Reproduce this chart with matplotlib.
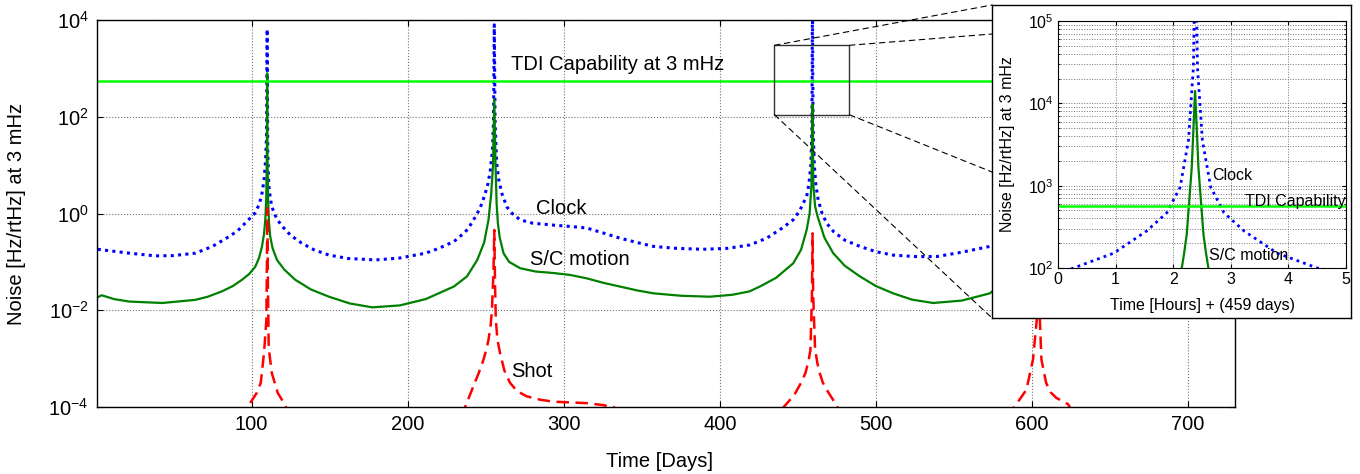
"""
Noise at 3 mHz over the mission: clock, S/C motion and shot noise vs TDI capability,
with a zoomed inset around day 459.
"""
import matplotlib
matplotlib.use("Agg")
import matplotlib.pyplot as plt
import numpy as np
from matplotlib.patches import Rectangle, ConnectionPatch
from matplotlib.ticker import NullLocator, NullFormatter, LogLocator

plt.rcParams["font.family"] = ["Liberation Sans", "DejaVu Sans"]
plt.rcParams["mathtext.fontset"] = "custom"
plt.rcParams["mathtext.rm"] = "Liberation Sans"
plt.rcParams["mathtext.it"] = "Liberation Sans:italic"
plt.rcParams["mathtext.bf"] = "Liberation Sans:bold"

# ---- data (values as log10 of noise) ----
tdi_level = 560.0

clock_days = [1.5, 21.6, 38.4, 50, 64, 75, 85.6, 91, 98, 102, 104.8, 106.5, 108, 109, 109.6,
              110, 110.4, 111, 112, 113, 115, 117, 119.8, 125, 132, 140, 149.6, 162, 179.5,
              195, 211.5, 220, 229.6, 237, 241, 244.6, 247.5, 250, 251.5, 253, 254.3, 255,
              255.5, 256, 257, 258.4, 260.5, 263.5, 267, 272, 280, 293.3, 305, 314.7, 325,
              336, 347, 357.4, 372, 389, 405, 419.2, 430, 440, 447, 451, 454, 455.6, 457,
              458.3, 459, 459.3, 459.7, 460.5, 461.5, 463, 465.5, 468.4, 473, 480, 489.7,
              500, 511, 525, 538.8, 555, 573, 590, 598, 602, 604, 606, 610, 620, 650, 690, 730]
clock_log10 = [-0.74, -0.82, -0.876, -0.87, -0.82, -0.68, -0.477, -0.36, -0.13, 0.0, 0.18,
               0.38, 0.69, 1.1, 1.6, 3.81, 1.3, 0.6, 0.32, 0.14, -0.03, -0.15, -0.27, -0.45,
               -0.61, -0.75, -0.86, -0.93, -0.96, -0.92, -0.82, -0.72, -0.58, -0.38, -0.2,
               0.0, 0.2, 0.45, 0.62, 0.9, 1.3, 1.9, 3.9, 1.9, 1.05, 0.69, 0.4, 0.14, 0.0,
               -0.13, -0.2, -0.24, -0.27, -0.30, -0.4, -0.51, -0.6, -0.68, -0.72, -0.74,
               -0.72, -0.65, -0.51, -0.3, -0.13, 0.05, 0.25, 0.35, 0.6, 1.0, 1.8, 4.5, 1.8,
               1.0, 0.6, 0.28, 0.0, -0.2, -0.38, -0.55, -0.68, -0.79, -0.86, -0.89, -0.89,
               -0.8, -0.68, -0.3, 0.3, 1.2, 3.9, 1.2, 0.3, -0.3, -0.75, -0.85, -0.8]

sc_days = [1.5, 4, 12, 21.6, 42.7, 64, 72, 81, 88, 93.9, 98.5, 102.4, 104.8, 106.7, 108,
           108.8, 109.4, 109.8, 110, 110.2, 110.6, 111.2, 112, 113.5, 116.3, 121, 128, 138,
           149.6, 163, 177.4, 195, 211.5, 229.6, 238, 244.6, 249, 251.8, 253.5, 254.7, 255.5,
           256.3, 257, 257.8, 259, 261.4, 265, 272, 282, 293.3, 304, 314.7, 325, 336, 347,
           357.4, 375, 393.6, 408, 419, 425.6, 436, 447, 452, 455.6, 457.5, 458.7, 459.3,
           459.9, 461, 462.5, 464, 467, 472.6, 480, 489.7, 500, 511, 523, 536.6, 555, 573,
           590, 600, 603, 604, 605, 608, 618, 650, 690, 730]
sc_log10 = [-1.73, -1.69, -1.77, -1.82, -1.85, -1.785, -1.72, -1.61, -1.5, -1.37, -1.25,
            -1.10, -0.92, -0.68, -0.42, -0.13, 0.3, 1.2, 2.9, 1.2, 0.3, -0.2, -0.48, -0.72,
            -0.96, -1.16, -1.37, -1.57, -1.72, -1.86, -1.94, -1.9, -1.77, -1.51, -1.3, -0.96,
            -0.6, -0.13, 0.4, 1.0, 2.36, 1.0, 0.2, -0.2, -0.5, -0.82, -1.0, -1.13, -1.2,
            -1.23, -1.27, -1.34, -1.43, -1.51, -1.59, -1.65, -1.70, -1.72, -1.68, -1.61,
            -1.51, -1.33, -1.03, -0.75, -0.34, 0.0, 0.6, 2.26, 0.6, 0.15, -0.05, -0.2, -0.5,
            -0.82, -1.08, -1.30, -1.5, -1.65, -1.78, -1.85, -1.8, -1.65, -1.2, -0.5, 0.5,
            2.4, 0.5, -0.5, -1.2, -1.7, -1.8, -1.7]

shot_days = [85, 97.3, 100.5, 103.5, 105.9, 108, 109.5, 109.9, 110.1, 110.5, 111, 113,
             116.8, 121.5, 130, 230, 236.8, 242, 245.5, 248.6, 250.5, 251.8, 253.2, 254, 255,
             255.5, 256, 256.5, 257.5, 259.2, 262, 265.6, 270, 276.3, 285, 293.3, 314.7, 325,
             331.8, 345, 435, 440.9, 445, 448.4, 452, 454.8, 456.8, 458, 459, 459.4, 459.8,
             461, 462.5, 464, 466, 468.4, 471.5, 474.7, 485, 578, 588.5, 593, 596.4, 600.6,
             603, 604, 605, 606, 609, 612, 615.5, 623, 635]
shot_log10 = [-5.0, -4.0, -3.85, -3.7, -3.5, -2.88, -2.2, -0.82, 0.11, -1.5, -2.78, -3.3,
              -3.71, -3.96, -4.6, -4.6, -4.0, -3.58, -3.3, -3.02, -2.8, -2.61, -2.3, -1.99,
              -1.2, -0.34, -1.5, -2.2, -2.6, -2.89, -3.25, -3.5, -3.67, -3.78, -3.85, -3.89,
              -3.92, -3.96, -4.0, -4.3, -4.5, -4.0, -3.85, -3.71, -3.5, -3.3, -3.05, -2.82,
              -1.72, -0.41, -1.7, -2.8, -3.1, -3.3, -3.5, -3.64, -3.8, -3.96, -4.6, -4.8,
              -4.0, -3.8, -3.64, -3.02, -2.2, -0.5, -2.2, -3.02, -3.5, -3.7, -3.81, -3.94,
              -4.6]

# inset, hours after day 459
clock_hours = [0, 0.27, 0.966, 1.54, 1.889, 2.12, 2.265, 2.351, 2.386, 2.421, 2.507, 2.652,
               2.883, 3.23, 3.806, 4.50, 5.0]
clock_hours_log10 = [1.93, 2.0, 2.18, 2.45, 2.67, 2.98, 3.55, 4.44, 6.0, 4.44, 3.55, 2.98,
                     2.67, 2.45, 2.18, 2.0, 1.93]
sc_hours = [0, 2.10, 2.149, 2.19, 2.235, 2.322, 2.38, 2.438, 2.525, 2.57, 2.611, 2.66, 5.0]
sc_hours_log10 = [0.5, 1.8, 2.0, 2.18, 2.41, 3.22, 4.15, 3.22, 2.41, 2.18, 2.0, 1.8, 0.5]

# zoom box on main plot (days, noise)
box_days = (435, 483)
box_noise = (110, 3000)

W, H = 1360, 474
fig = plt.figure(figsize=(W / 100, H / 100), dpi=100)

ax = fig.add_axes([97 / W, 1 - 407 / H, 1138 / W, 387 / H])
ax.set_yscale("log")

ax.plot(clock_days, 10 ** np.array(clock_log10), color="blue", lw=2.2, ls=(0, (1, 1.4)))
ax.plot(sc_days, 10 ** np.array(sc_log10), color=(0, 0.5, 0), lw=1.6)
ax.plot(shot_days, 10 ** np.array(shot_log10), color="red", lw=1.8, ls=(0, (5, 2.6)))
ax.axhline(tdi_level, color=(0, 1, 0), lw=1.8)

ax.set_xlim(1, 730)
ax.set_ylim(1e-4, 1e4)
ax.set_xticks([100, 200, 300, 400, 500, 600, 700])
ax.set_yticks([1e-4, 1e-2, 1, 1e2, 1e4])
ax.yaxis.set_minor_locator(NullLocator())
ax.grid(True, ls=":", color="0.45", lw=0.8)
ax.tick_params(direction="in", top=True, right=True, length=4, width=0.8,
               labelsize=14.5, pad=6)
for s in ax.spines.values():
    s.set_linewidth(1.0)

ax.set_xlabel("Time [Days]", fontsize=14.5)
ax.xaxis.set_label_coords(0.494, -0.116)
ax.set_ylabel("Noise [Hz/rtHz] at 3 mHz", fontsize=14.5)
ax.yaxis.set_label_coords(-0.062, 0.5)

ax.text(266, 10 ** 3.07, "TDI Capability at 3 mHz", fontsize=14.5, va="center")
ax.text(282, 10 ** 0.095, "Clock", fontsize=14.5, va="center")
ax.text(278.5, 10 ** -0.96, "S/C motion", fontsize=14.5, va="center")
ax.text(266, 10 ** -3.27, "Shot", fontsize=14.5, va="center")

ax.add_patch(Rectangle((box_days[0], box_noise[0]), box_days[1] - box_days[0],
                       box_noise[1] - box_noise[0], fill=False, ec="0.2", lw=1.0, zorder=5))

# panel behind the inset
panel = [992 / W, 1 - 318 / H, 359 / W, 313 / H]
axp = fig.add_axes(panel, zorder=3)
axp.set_xticks([])
axp.set_yticks([])
axp.set_facecolor("white")
for s in axp.spines.values():
    s.set_linewidth(1.0)

# dashed connectors from the zoom box to the panel
px0, py1 = panel[0], panel[1] + panel[3]
ends = [((box_days[0], box_noise[1]), (px0, py1)),
        ((box_days[1], box_noise[1]), (px0, 1 - 34 / H)),
        ((box_days[1], box_noise[0]), (px0, 1 - 172 / H)),
        ((box_days[0], box_noise[0]), (px0, panel[1]))]
for a, b in ends:
    con = ConnectionPatch(xyA=a, coordsA=ax.transData, xyB=b, coordsB="figure fraction",
                          ls=(0, (5, 4)), lw=0.8, color="black")
    fig.add_artist(con)

# inset
axi = fig.add_axes([1058 / W, 1 - 268 / H, 288 / W, 247 / H], zorder=4)
axi.set_yscale("log")
axi.plot(clock_hours, 10 ** np.array(clock_hours_log10), color="blue", lw=2.0,
         ls=(0, (1, 1.5)))
axi.plot(sc_hours, 10 ** np.array(sc_hours_log10), color=(0, 0.5, 0), lw=1.6)
axi.axhline(tdi_level, color=(0, 1, 0), lw=1.8)
axi.set_xlim(0, 5)
axi.set_ylim(1e2, 1e5)
axi.set_xticks([0, 1, 2, 3, 4, 5])
axi.yaxis.set_major_locator(LogLocator(base=10, numticks=10))
axi.yaxis.set_minor_locator(LogLocator(base=10, subs=np.arange(2, 10), numticks=20))
axi.yaxis.set_minor_formatter(NullFormatter())
axi.grid(True, which="both", ls=":", color="0.45", lw=0.7)
axi.tick_params(direction="in", top=True, right=True, length=3, width=0.8,
                labelsize=11.5, pad=3)
axi.tick_params(which="minor", direction="in", right=True, length=1.5)
axi.set_xlabel("Time [Hours] + (459 days)", fontsize=11.5)
axi.xaxis.set_label_coords(0.503, -0.12)
axi.set_ylabel("Noise [Hz/rtHz] at 3 mHz", fontsize=11.5)
axi.yaxis.set_label_coords(-0.149, 0.5)
axi.text(2.68, 10 ** 3.12, "Clock", fontsize=11.5, va="center")
axi.text(3.25, 10 ** 2.81, "TDI Capability", fontsize=11.5, va="center")
axi.text(2.63, 10 ** 2.15, "S/C motion", fontsize=11.5, va="center")

fig.savefig("out.png", dpi=100)
